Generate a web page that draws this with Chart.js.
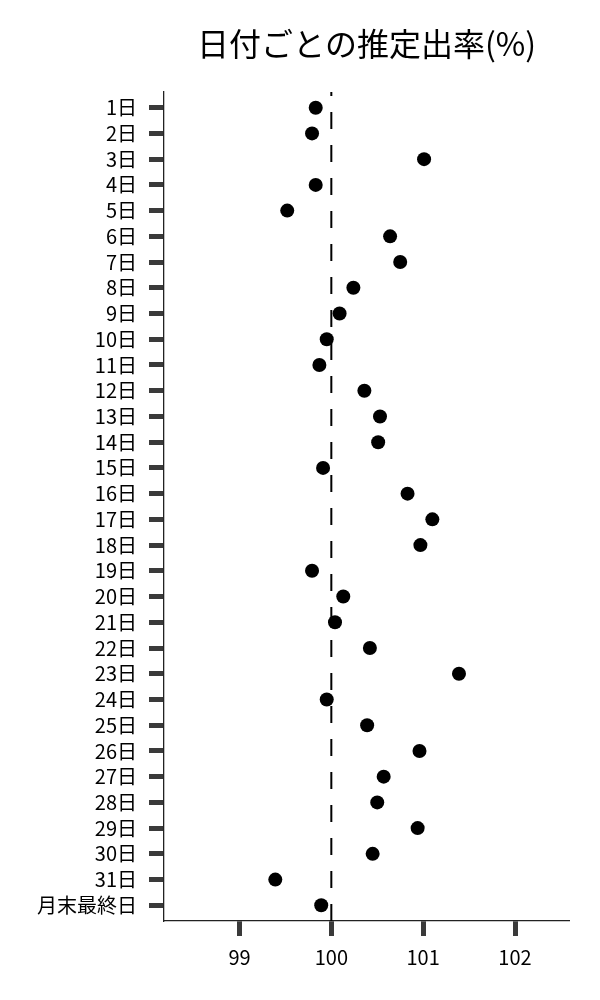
<!DOCTYPE html>
<html>
<head>
<meta charset="utf-8">
<script src="https://cdn.jsdelivr.net/npm/chart.js@4/dist/chart.umd.min.js"></script>
<style>
html,body{margin:0;padding:0;background:#fff;}
canvas{display:block;}
</style>
</head>
<body>
<canvas id="c" width="600" height="1000"></canvas>
<script>
const categories = ["1日","2日","3日","4日","5日","6日","7日","8日","9日","10日","11日","12日","13日","14日","15日","16日","17日","18日","19日","20日","21日","22日","23日","24日","25日","26日","27日","28日","29日","30日","31日","月末最終日"];
const rates = [99.83,99.79,101.01,99.83,99.52,100.64,100.75,100.24,100.09,99.95,99.87,100.36,100.53,100.51,99.91,100.83,101.10,100.97,99.79,100.13,100.04,100.42,101.39,99.95,100.39,100.96,100.57,100.50,100.94,100.45,99.39,99.89];
const xTicks = [99,100,101,102];
const referenceValue = 100;
const titleText = "日付ごとの推定出率(%)";

const FONT = '"Noto Sans CJK JP", "Noto Sans", sans-serif';
const yMin = -0.61, yMax = categories.length - 1 + 0.61;

const points = rates.map((v, i) => ({x: v, y: i}));
const refLine = [{x: referenceValue, y: yMax}, {x: referenceValue, y: yMin}];

new Chart(document.getElementById('c'), {
  type: 'scatter',
  data: {
    datasets: [
      {
        data: points,
        pointRadius: 7,
        pointBackgroundColor: '#000',
        pointBorderWidth: 0,
        pointHoverRadius: 7
      },
      {
        type: 'line',
        data: refLine,
        borderColor: '#000',
        borderWidth: 2,
        borderDash: [17, 16],
        pointRadius: 0,
        fill: false,
        tension: 0
      }
    ]
  },
  options: {
    responsive: false,
    animation: false,
    events: [],
    layout: {padding: {left: 0, right: 31, top: 0, bottom: 0}},
    plugins: {
      legend: {display: false},
      tooltip: {enabled: false},
      title: {
        display: true,
        text: titleText,
        fullSize: false,
        color: '#000',
        font: {family: FONT, size: 32, weight: 'normal'},
        padding: {top: 25, bottom: 28.6}
      }
    },
    scales: {
      x: {
        type: 'linear',
        min: 98.178,
        max: 102.588,
        afterBuildTicks: (s) => { s.ticks = xTicks.map(v => ({value: v})); },
        afterFit: (s) => { s.height = 79; },
        grid: {display: true, drawOnChartArea: false, tickLength: 15, tickWidth: 5, tickColor: '#3a3a3a'},
        border: {display: true, color: '#222', width: 1.3},
        ticks: {color: '#000', font: {family: FONT, size: 20}, padding: 9, maxRotation: 0}
      },
      y: {
        type: 'linear',
        reverse: true,
        min: yMin,
        max: yMax,
        afterBuildTicks: (s) => { s.ticks = categories.map((_, i) => ({value: i})); },
        afterFit: (s) => { s.width = 164; },
        grid: {display: true, drawOnChartArea: false, tickLength: 15, tickWidth: 5, tickColor: '#3a3a3a'},
        border: {display: true, color: '#222', width: 1.3},
        ticks: {
          color: '#000',
          font: {family: FONT, size: 20},
          padding: 12,
          autoSkip: false,
          callback: (v) => categories[v] !== undefined ? categories[v] : ''
        }
      }
    }
  }
});
</script>
</body>
</html>
